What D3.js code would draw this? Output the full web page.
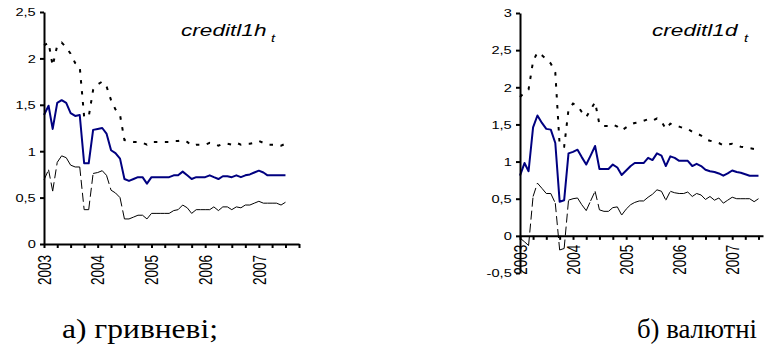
<!DOCTYPE html>
<html>
<head>
<meta charset="utf-8">
<script src="https://cdn.jsdelivr.net/npm/d3@7"></script>
<style>
  body { margin: 0; background: #fff; }
</style>
</head>
<body>
<svg id="chart" width="768" height="355"></svg>
<script>
// monthly observations, Jan 2003 .. Jul 2007
var months = d3.timeMonth.range(new Date(2003, 0, 1), new Date(2007, 7, 1));

// а) hryvnia loans: estimate, upper and lower band
var hrnMid = [1.39, 1.49, 1.24, 1.52, 1.55, 1.52, 1.41, 1.38, 1.39, 0.87,
    0.87, 1.23, 1.24, 1.25, 1.19, 1.01, 0.98, 0.92, 0.70, 0.68,
    0.70, 0.72, 0.72, 0.65, 0.72, 0.72, 0.72, 0.72, 0.72, 0.74,
    0.74, 0.78, 0.74, 0.70, 0.72, 0.72, 0.72, 0.74, 0.72, 0.70,
    0.73, 0.73, 0.72, 0.74, 0.72, 0.74, 0.75, 0.77, 0.79, 0.77,
    0.74, 0.74, 0.74, 0.74, 0.74];
var hrnUp = [2.14, 2.17, 1.92, 2.14, 2.17, 2.12, 2.05, 1.95, 1.91, 1.37,
    1.37, 1.66, 1.72, 1.75, 1.70, 1.55, 1.45, 1.39, 1.12, 1.11,
    1.10, 1.10, 1.09, 1.07, 1.10, 1.10, 1.10, 1.10, 1.10, 1.11,
    1.11, 1.12, 1.10, 1.06, 1.07, 1.07, 1.07, 1.09, 1.08, 1.06,
    1.08, 1.08, 1.07, 1.09, 1.07, 1.08, 1.08, 1.09, 1.11, 1.09,
    1.07, 1.07, 1.07, 1.06, 1.08];
var hrnLow = [0.69, 0.80, 0.57, 0.88, 0.95, 0.93, 0.85, 0.83, 0.83, 0.37,
    0.37, 0.76, 0.77, 0.79, 0.74, 0.58, 0.55, 0.50, 0.27, 0.27,
    0.29, 0.31, 0.31, 0.27, 0.33, 0.33, 0.33, 0.33, 0.33, 0.36,
    0.37, 0.42, 0.39, 0.33, 0.37, 0.37, 0.37, 0.37, 0.40, 0.36,
    0.40, 0.40, 0.37, 0.40, 0.39, 0.42, 0.42, 0.44, 0.46, 0.44,
    0.44, 0.44, 0.44, 0.42, 0.45];

// б) foreign-currency loans
var valMid = [0.81, 0.98, 0.87, 1.46, 1.62, 1.52, 1.44, 1.43, 1.25, 0.46,
    0.48, 1.11, 1.13, 1.16, 1.06, 0.96, 1.08, 1.21, 0.90, 0.90,
    0.90, 0.96, 0.92, 0.82, 0.88, 0.94, 0.98, 0.98, 0.98, 1.05,
    1.02, 1.11, 1.08, 0.94, 1.07, 1.05, 1.01, 1.01, 1.01, 0.94,
    0.97, 0.94, 0.89, 0.87, 0.86, 0.84, 0.81, 0.84, 0.88, 0.86,
    0.85, 0.83, 0.81, 0.81, 0.81];
var valUp = [1.87, 1.93, 1.97, 2.35, 2.47, 2.43, 2.38, 2.32, 2.20, 1.22,
    1.20, 1.70, 1.78, 1.75, 1.67, 1.60, 1.70, 1.80, 1.50, 1.48,
    1.48, 1.50, 1.47, 1.42, 1.46, 1.50, 1.52, 1.53, 1.55, 1.57,
    1.55, 1.58, 1.54, 1.44, 1.51, 1.49, 1.47, 1.45, 1.44, 1.40,
    1.38, 1.35, 1.30, 1.28, 1.27, 1.25, 1.22, 1.23, 1.24, 1.22,
    1.20, 1.19, 1.18, 1.17, 1.16];
var valLow = [-0.03, -0.08, -0.13, 0.53, 0.71, 0.64, 0.57, 0.57, 0.44, -0.19,
    -0.17, 0.48, 0.50, 0.51, 0.42, 0.34, 0.47, 0.60, 0.35, 0.33,
    0.33, 0.38, 0.39, 0.28, 0.36, 0.42, 0.45, 0.47, 0.47, 0.52,
    0.56, 0.62, 0.60, 0.48, 0.60, 0.58, 0.57, 0.57, 0.59, 0.53,
    0.57, 0.55, 0.49, 0.53, 0.48, 0.51, 0.44, 0.48, 0.52, 0.50,
    0.50, 0.50, 0.50, 0.46, 0.50];

var hrnTicks = [0, 0.5, 1, 1.5, 2, 2.5];
var valTicks = [-0.5, 0, 0.5, 1, 1.5, 2, 2.5, 3];

var sansFont = "Arial, 'Liberation Sans', sans-serif";
var svg = d3.select("#chart");
var stretch = 1.33;   // the original picture is widened
var fmt = function(d) { return String(d).replace(".", ","); };

function panel(cfg) {
    var x = d3.scaleTime().domain(cfg.xDomain).range(cfg.xRange);
    var y = d3.scaleLinear().domain(cfg.yDomain).range(cfg.yRange);
    var g = svg.append("g");

    var line = d3.line()
        .x(function(d) { return x(d[0]); })
        .y(function(d) { return y(d[1]); });
    function pts(vals) {
        return months.map(function(m, i) { return [m, vals[i]]; });
    }

    // lower band: dash pattern restarts on every segment
    g.selectAll(".lowSeg")
        .data(d3.pairs(pts(cfg.low)))
        .enter().append("path")
        .attr("d", function(d) { return line(d); })
        .attr("fill", "none")
        .attr("stroke", "#000")
        .attr("stroke-width", 1)
        .attr("stroke-dasharray", "9,4");

    g.append("path")
        .attr("d", line(pts(cfg.up)))
        .attr("fill", "none")
        .attr("stroke", "#000")
        .attr("stroke-width", 2)
        .attr("stroke-dasharray", "3.5,7.5");

    g.append("path")
        .attr("d", line(pts(cfg.mid)))
        .attr("fill", "none")
        .attr("stroke", "#000080")
        .attr("stroke-width", 2)
        .attr("stroke-linejoin", "round");

    // y axis
    var yAxis = g.append("g")
        .attr("transform", "translate(" + cfg.xRange[0] + ",0)")
        .call(d3.axisLeft(y).tickValues(cfg.yTicks).tickFormat(fmt)
            .tickSize(4).tickSizeOuter(0));
    yAxis.selectAll("path, line").attr("stroke", "#000").attr("stroke-width", 2);
    yAxis.selectAll("text")
        .attr("x", -6.2)
        .attr("dy", "0.35em")
        .attr("fill", "#000")
        .attr("transform", "scale(" + stretch + ",1)")
        .style("font-family", sansFont)
        .style("font-size", "11px");

    // x axis, quarterly ticks, years labelled
    var xAxis = g.append("g")
        .attr("transform", "translate(0," + y(0) + ")")
        .call(d3.axisBottom(x).ticks(d3.timeMonth.every(3))
            .tickFormat(function(d) { return d.getMonth() === 0 ? d3.timeFormat("%Y")(d) : ""; })
            .tickSize(4).tickSizeOuter(0));
    xAxis.selectAll("path, line").attr("stroke", "#000").attr("stroke-width", 2);
    xAxis.selectAll("text")
        .attr("y", 0)
        .attr("x", -cfg.labelGap)
        .attr("dy", "0.35em")
        .attr("fill", "#000")
        .attr("text-anchor", "end")
        .attr("transform", "scale(" + stretch + ",1) rotate(-90)")
        .style("font-family", sansFont)
        .style("font-size", "13.5px");

    // title with subscript t
    g.append("text")
        .attr("transform", "translate(" + cfg.titleX + ",36) scale(" + stretch + ",1)")
        .style("font-family", sansFont)
        .style("font-size", "17px")
        .style("font-style", "italic")
        .text(cfg.title);
    g.append("text")
        .attr("transform", "translate(" + cfg.subX + ",42) scale(" + stretch + ",1)")
        .style("font-family", sansFont)
        .style("font-size", "11px")
        .style("font-style", "italic")
        .text("t");
}

panel({
    mid: hrnMid, up: hrnUp, low: hrnLow,
    xDomain: [new Date(2003, 0, 1), new Date(2007, 9, 1)], xRange: [44, 299],
    yDomain: [0, 2.5], yRange: [244, 12], yTicks: hrnTicks,
    labelGap: 11, title: "creditl1h", titleX: 181, subX: 271
});

panel({
    mid: valMid, up: valUp, low: valLow,
    xDomain: [new Date(2003, 0, 1), new Date(2007, 7, 1)], xRange: [520, 763],
    yDomain: [-0.5, 3], yRange: [273, 13], yTicks: valTicks,
    labelGap: 9, title: "creditl1d", titleX: 652, subX: 744
});

// captions, fitted to the width they take in the original
function caption(label, left, width) {
    svg.append("text")
        .attr("x", left)
        .attr("y", 338)
        .attr("textLength", width)
        .attr("lengthAdjust", "spacingAndGlyphs")
        .attr("fill", "#000")
        .style("font-family", "'Times New Roman', 'Liberation Serif', serif")
        .style("font-size", "28px")
        .text(label);
}
caption("а) гривневі;", 62, 156);
caption("б) валютні", 637, 120);
</script>
</body>
</html>
